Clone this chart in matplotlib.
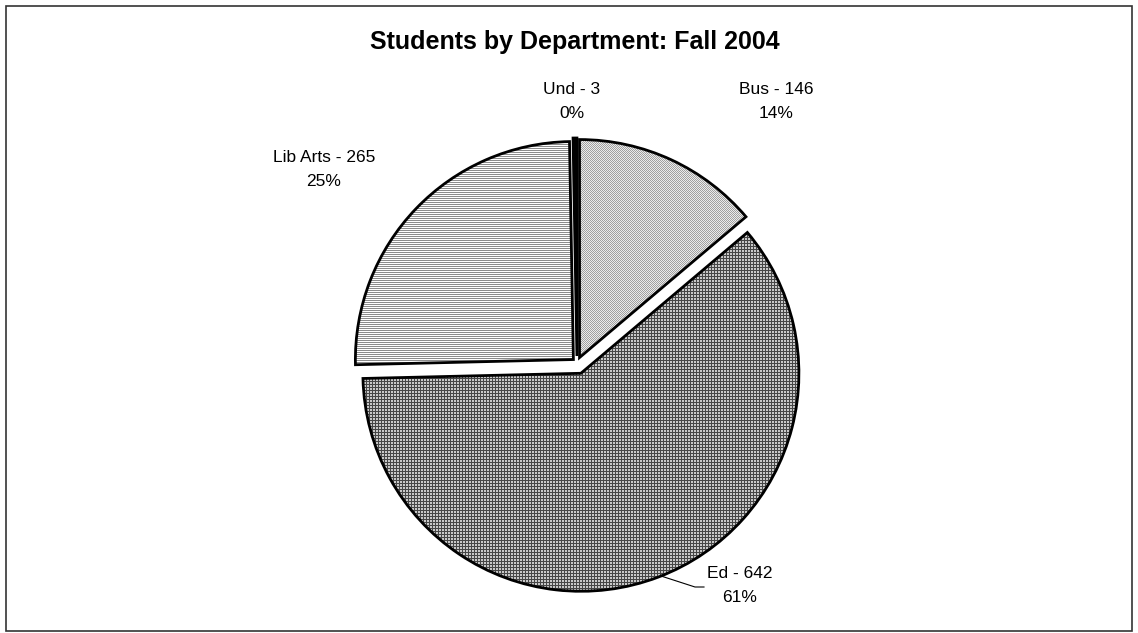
import numpy as np
import matplotlib
matplotlib.use("Agg")
import matplotlib.pyplot as plt
from matplotlib.patches import Rectangle

plt.rcParams['font.family'] = ['Liberation Sans', 'DejaVu Sans']

title = "Students by Department: Fall 2004"
departments = ["Bus", "Ed", "Lib Arts", "Und"]
students = [146, 642, 265, 3]

W, H = 1138, 633
fig = plt.figure(figsize=(W / 100, H / 100), dpi=100)
ax = fig.add_axes([0, 0, 1, 1])
ax.axis('off')

def py(y):
    return H - y

cx, cy = 577, 363
R = 218
explode_px = [6, 11, 5, 7]
wedges, _ = ax.pie(students, startangle=90, counterclock=False,
                   center=(cx, py(cy)), radius=R,
                   explode=explode_px,
                   wedgeprops=dict(edgecolor='black', linewidth=2, facecolor='none'))
ax.set_xlim(0, W)
ax.set_ylim(0, H)
ax.set_aspect('auto')

# texture patterns
yy, xx = np.mgrid[0:H, 0:W]
def rgb(mask, c1, c2):
    c1 = np.array(c1, float) / 255
    c2 = np.array(c2, float) / 255
    return np.where(mask[..., None], c1, c2)

pat_bus = rgb(((xx + yy) % 2 == 0), (160, 160, 160), (235, 235, 235))
pat_ed = rgb(((xx % 3 == 0) | (yy % 3 == 0)), (70, 70, 70), (200, 200, 200))
pat_lib = rgb((yy % 2 == 0), (140, 140, 140), (255, 255, 255))
patterns = [pat_bus, pat_ed, pat_lib, None]

for w, pat in zip(wedges, patterns):
    w.set_zorder(3)
    if pat is None:
        w.set_facecolor('black')
        continue
    im = ax.imshow(pat, extent=(0, W, 0, H), origin='upper', zorder=2,
                   interpolation='nearest', aspect='auto')
    im.set_clip_path(w)

ax.set_xlim(0, W)
ax.set_ylim(0, H)

total = sum(students)
label_pos = [(776, 101), (740, 585), (324, 170), (572, 101)]
for name, v, (lx, ly) in zip(departments, students, label_pos):
    ax.text(lx, py(ly), f"{name} - {v}\n{100 * v / total:.0f}%", ha='center', va='center',
            fontsize=12.5, linespacing=1.75, zorder=5)

# leader line for Ed
ax.plot([661, 695, 704], [py(576), py(587), py(587)], color='black', lw=0.8, zorder=4)

ax.text(575, py(42), title, ha='center', va='center', fontsize=18, fontweight='bold', zorder=5)

# outer frame
fig.patches.append(Rectangle((6 / W, 2 / H), (W - 12) / W, (H - 8) / H, transform=fig.transFigure,
                             fill=False, edgecolor='#333333', linewidth=1.2))

fig.savefig("out.png", dpi=100)
